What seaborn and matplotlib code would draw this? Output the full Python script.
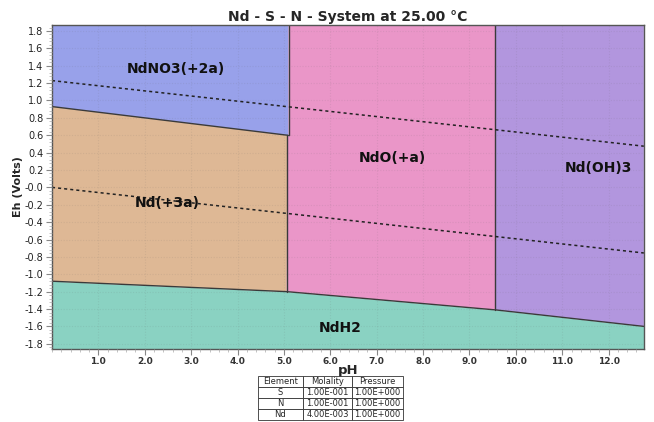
import numpy as np
import matplotlib
matplotlib.use("Agg")
import matplotlib.pyplot as plt
import seaborn as sns
from matplotlib.ticker import MultipleLocator

# region boundaries (pH, Eh in volts)
ph_no3_low = [0.0, 5.08]
eh_no3_low = [0.93, 0.60]
ph_no3_edge = 5.10
ph_nd3_edge = 5.06
ph_ndoh_edge = 9.56
ph_h2 = [0.0, 5.06, 9.56, 12.76]
eh_h2 = [-1.08, -1.20, -1.41, -1.60]

# water stability lines
ph_water = [0.0, 12.76]
eh_o2 = [1.229, 0.474]
eh_h2o = [0.0, -0.755]

labels = ["NdNO3(+2a)", "Nd(+3a)", "NdO(+a)", "Nd(OH)3", "NdH2"]
label_ph = [2.67, 2.48, 7.34, 11.79, 6.22]
label_eh = [1.36, -0.18, 0.34, 0.22, -1.62]
colors = ["#98a1ea", "#deb895", "#ea96c8", "#b296de", "#8ad2c2"]

table_cols = ["Element", "Molality", "Pressure"]
table_rows = [["S", "1.00E-001", "1.00E+000"],
              ["N", "1.00E-001", "1.00E+000"],
              ["Nd", "4.00E-003", "1.00E+000"]]

XMIN, XMAX = 0.0, 12.76
YMIN, YMAX = -1.86, 1.87

sns.set_theme(style="white")
plt.rcParams['font.family'] = ['DejaVu Sans']

fig = plt.figure(figsize=(6.54, 4.22), dpi=100)
ax = fig.add_axes([0.0795, 0.173, 0.905, 0.768])

# regions
ax.fill([XMIN, ph_no3_low[0], ph_no3_low[1], ph_no3_edge, ph_no3_edge],
        [YMAX, eh_no3_low[0], eh_no3_low[1], eh_no3_low[1], YMAX],
        color=colors[0], lw=0)
ax.fill([ph_no3_low[0], ph_no3_low[1], ph_h2[1], ph_h2[0]],
        [eh_no3_low[0], eh_no3_low[1], eh_h2[1], eh_h2[0]],
        color=colors[1], lw=0)
ax.fill([ph_no3_edge, ph_ndoh_edge, ph_h2[2], ph_h2[1], ph_no3_low[1], ph_no3_edge],
        [YMAX, YMAX, eh_h2[2], eh_h2[1], eh_no3_low[1], eh_no3_low[1]],
        color=colors[2], lw=0)
ax.fill([ph_ndoh_edge, XMAX, ph_h2[3], ph_h2[2]],
        [YMAX, YMAX, eh_h2[3], eh_h2[2]],
        color=colors[3], lw=0)
ax.fill_between(ph_h2, YMIN, eh_h2, color=colors[4], lw=0)

# boundaries
edge = dict(color="#3a3a3a", lw=1.0)
sns.lineplot(x=ph_no3_low, y=eh_no3_low, ax=ax, **edge)
ax.plot([ph_no3_low[1], ph_no3_edge], [eh_no3_low[1], eh_no3_low[1]], **edge)
ax.plot([ph_no3_edge, ph_no3_edge], [eh_no3_low[1], YMAX], **edge)
ax.plot([ph_nd3_edge, ph_nd3_edge], [eh_h2[1], eh_no3_low[1]], **edge)
ax.plot([ph_ndoh_edge, ph_ndoh_edge], [eh_h2[2], YMAX], **edge)
sns.lineplot(x=ph_h2, y=eh_h2, ax=ax, **edge)

sns.lineplot(x=ph_water, y=eh_o2, ax=ax, color="#222222", lw=1.1, linestyle=(0, (2, 2)))
sns.lineplot(x=ph_water, y=eh_h2o, ax=ax, color="#222222", lw=1.1, linestyle=(0, (2, 2)))

for t, x, y in zip(labels, label_ph, label_eh):
    ax.text(x, y, t, ha="center", va="center", fontsize=10, fontweight="bold", color="#111111")

ax.set_xlim(XMIN, XMAX)
ax.set_ylim(YMIN, YMAX)
ax.set_xticks(np.arange(1, 13))
ax.set_xticklabels([f"{v:.1f}" for v in range(1, 13)], fontsize=6.5, fontweight="bold", color="#333333")
ax.set_yticks(np.round(np.arange(-1.8, 1.81, 0.2), 1))
ax.set_yticklabels([f"{v:.1f}" for v in np.round(np.arange(-1.8, 1.81, 0.2), 1)],
                   fontsize=7, color="#222222")
ax.xaxis.set_minor_locator(MultipleLocator(0.2))
ax.yaxis.set_minor_locator(MultipleLocator(0.04))
ax.tick_params(which="major", direction="out", length=4, width=0.8, color="#888888", pad=2,
               bottom=True, left=True)
ax.tick_params(which="minor", direction="out", length=2, width=0.5, color="#aaaaaa",
               bottom=True, left=True)
ax.grid(True, which="major", color="#666666", alpha=0.12, linestyle=(0, (1, 1.5)), lw=0.8)
ax.set_axisbelow(False)
for s in ax.spines.values():
    s.set_color("#555555")
    s.set_linewidth(1.0)

ax.set_title("Nd - S - N - System at 25.00 °C", fontsize=10, fontweight="bold", pad=3)
ax.set_xlabel("pH", fontsize=9.5, fontweight="bold", labelpad=-2)
ax.set_ylabel("Eh (Volts)", fontsize=8, fontweight="bold", labelpad=1)

# composition table
tax = fig.add_axes([258 / 654, 2 / 422, 145 / 654, 44 / 422])
tax.axis("off")
tbl = tax.table(cellText=table_rows, colLabels=table_cols, loc="center",
                cellLoc="center", bbox=[0, 0, 1, 1], colWidths=[0.31, 0.34, 0.35])
tbl.auto_set_font_size(False)
tbl.set_fontsize(6)
for cell in tbl.get_celld().values():
    cell.set_linewidth(0.6)
    cell.set_edgecolor("#333333")

fig.savefig("out.png", dpi=100)
